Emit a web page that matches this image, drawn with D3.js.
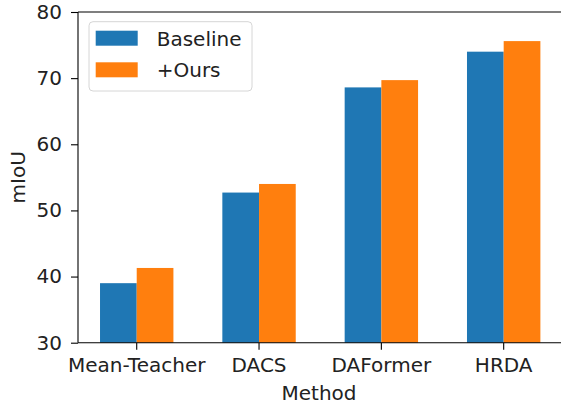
<!DOCTYPE html>
<html lang="en">
  <head>
    <meta charset="UTF-8" />
    <title>miou-bars</title>
    <style>
      body {
        margin: 0;
        background: #fff;
      }
      svg {
        display: block;
      }
      svg text {
        font-family: "DejaVu Sans", sans-serif;
        font-size: 20px;
        fill: #222;
      }
      .axis-title {
        text-anchor: middle;
      }
    </style>
  </head>
  <body>
    <script src="https://cdn.jsdelivr.net/npm/d3@7"></script>
    <script>
      const methods = ["Mean-Teacher", "DACS", "DAFormer", "HRDA"];
      const seriesNames = ["Baseline", "+Ours"];
      const baseline = [39.0, 52.7, 68.6, 74.0];
      const ours = [41.3, 54.0, 69.7, 75.6];
      const yTicks = [30, 40, 50, 60, 70, 80];
      const colors = ["#1f77b4", "#ff7f0e"];

      const width = 561;
      const height = 406;
      // plot area (right spine falls just outside the picture, like the original crop)
      const plotLeft = 78;
      const plotRight = 562.4;
      const plotTop = 12;
      const plotBottom = 342.7;

      const rows = methods.map((m, i) => ({ method: m, values: [baseline[i], ours[i]] }));

      const svg = d3
        .select("body")
        .append("svg")
        .attr("width", width)
        .attr("height", height);

      const x = d3
        .scaleBand()
        .domain(methods)
        .range([plotLeft, plotRight])
        .paddingInner(0.4)
        .paddingOuter(0.18);

      const xSub = d3.scaleBand().domain(seriesNames).range([0, x.bandwidth()]);

      const y = d3.scaleLinear().domain([30, 80]).range([plotBottom, plotTop]);

      // bars
      svg
        .append("g")
        .selectAll("g")
        .data(rows)
        .join("g")
        .attr("transform", d => `translate(${x(d.method)},0)`)
        .selectAll("rect")
        .data(d => d.values.map((v, k) => ({ name: seriesNames[k], value: v, k })))
        .join("rect")
        .attr("x", d => xSub(d.name))
        .attr("width", xSub.bandwidth())
        .attr("y", d => y(d.value))
        .attr("height", d => plotBottom - y(d.value))
        .attr("fill", d => colors[d.k]);

      // axes
      const xAxis = svg
        .append("g")
        .attr("transform", `translate(0,${plotBottom})`)
        .call(d3.axisBottom(x).tickSize(7).tickPadding(8).tickSizeOuter(0));
      xAxis.select(".domain").remove();

      const yAxis = svg
        .append("g")
        .attr("transform", `translate(${plotLeft},0)`)
        .call(d3.axisLeft(y).tickValues(yTicks).tickSize(7).tickPadding(9).tickSizeOuter(0));
      yAxis.select(".domain").remove();

      svg.selectAll(".tick line").attr("stroke", "#000").attr("stroke-width", 1.1);

      // spines
      const spines = svg.append("g").attr("stroke", "#000").attr("stroke-width", 1.1).attr("fill", "none");
      spines.append("line").attr("x1", plotLeft).attr("x2", plotLeft).attr("y1", plotTop).attr("y2", plotBottom);
      spines.append("line").attr("x1", plotLeft).attr("x2", plotRight).attr("y1", plotBottom).attr("y2", plotBottom);
      spines.append("line").attr("x1", plotLeft).attr("x2", plotRight).attr("y1", plotTop).attr("y2", plotTop);
      spines.append("line").attr("x1", plotRight).attr("x2", plotRight).attr("y1", plotTop).attr("y2", plotBottom);

      // axis titles
      svg
        .append("text")
        .attr("class", "axis-title")
        .attr("x", 319)
        .attr("y", 400)
        .text("Method");

      svg
        .append("text")
        .attr("class", "axis-title")
        .attr("transform", `translate(25,${(plotTop + plotBottom) / 2}) rotate(-90)`)
        .text("mIoU");

      // legend
      const legend = svg.append("g").attr("transform", "translate(89,21.7)");
      legend
        .append("rect")
        .attr("width", 163)
        .attr("height", 69.3)
        .attr("rx", 4)
        .attr("fill", "#fff")
        .attr("fill-opacity", 0.8)
        .attr("stroke", "#d6d6d6")
        .attr("stroke-width", 1);

      const items = legend
        .selectAll("g.item")
        .data(seriesNames)
        .join("g")
        .attr("class", "item")
        .attr("transform", (d, i) => `translate(6.7,${9 + i * 31.6})`);
      items
        .append("rect")
        .attr("width", 42)
        .attr("height", 15)
        .attr("fill", (d, i) => colors[i]);
      items
        .append("text")
        .attr("x", 61)
        .attr("y", 15)
        .text(d => d);
    </script>
  </body>
</html>
